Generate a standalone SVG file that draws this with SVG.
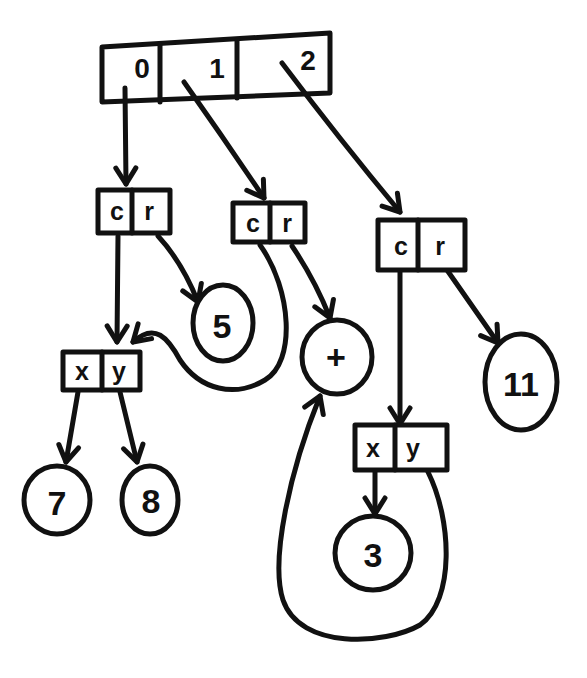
<svg xmlns="http://www.w3.org/2000/svg" width="587" height="678" viewBox="0 0 587 678">
<style>
.ln{fill:none;stroke:#111;stroke-width:5;stroke-linecap:round;stroke-linejoin:round}
.cell{fill:#fff;stroke:#111;stroke-width:5;stroke-linejoin:round}
.nd{fill:#fff;stroke:#111;stroke-width:5}
.t{font-family:"Liberation Sans",Arial,sans-serif;fill:#111;text-anchor:middle;dominant-baseline:central}
.s{font-size:25px;font-weight:bold}
.a{font-size:28px;font-weight:bold}
.b{font-size:34px;font-weight:bold}
</style>
<defs>
<marker id="ah" viewBox="-20 -13 24 26" markerWidth="24" markerHeight="26" refX="0" refY="0" orient="auto" markerUnits="userSpaceOnUse" overflow="visible">
<path d="M-16,-10 L0,0 L-16,10" fill="none" stroke="#111" stroke-width="5" stroke-linecap="round" stroke-linejoin="round"/>
</marker>
</defs>
<rect width="587" height="678" fill="#fff"/>
<g id="connectors">
<path class="ln" d="M125,88 L126,184" marker-end="url(#ah)"/>
<path class="ln" d="M184,82 Q225,140 264,198" marker-end="url(#ah)"/>
<path class="ln" d="M282,63 Q340,140 400,212" marker-end="url(#ah)"/>
<path class="ln" d="M158,236 Q182,262 198,302" marker-end="url(#ah)"/>
<path class="ln" d="M118,236 L117,342" marker-end="url(#ah)"/>
<path class="ln" d="M260,245 C292,290 296,362 265,380 C235,398 200,390 180,360 C168,338 155,322 133,342" marker-end="url(#ah)"/>
<path class="ln" d="M292,246 Q315,280 330,318" marker-end="url(#ah)"/>
<path class="ln" d="M400,272 L400,424" marker-end="url(#ah)"/>
<path class="ln" d="M447,270 Q475,310 498,343" marker-end="url(#ah)"/>
<path class="ln" d="M78,392 L66,462" marker-end="url(#ah)"/>
<path class="ln" d="M120,392 L137,462" marker-end="url(#ah)"/>
<path class="ln" d="M375,472 L375,514" marker-end="url(#ah)"/>
<path class="ln" d="M428,472 C452,520 455,600 420,625 C385,645 300,650 283,600 C270,560 290,470 320,396" marker-end="url(#ah)"/>
</g>
<g id="array">
<polygon class="cell" style="fill:none" points="102,47 330,33 330,93 102,102"/>
<line class="ln" x1="160" y1="45" x2="160" y2="102"/>
<line class="ln" x1="237" y1="40" x2="237" y2="98"/>
<text class="t a" x="142" y="68">0</text>
<text class="t a" x="217" y="68">1</text>
<text class="t a" x="308" y="60">2</text>
</g>
<g id="cons1">
<rect class="cell" x="98" y="190" width="72" height="43"/>
<line class="ln" x1="132" y1="190" x2="132" y2="233"/>
<text class="t s" x="117" y="211">c</text>
<text class="t s" x="149" y="211">r</text>
</g>
<g id="cons2">
<rect class="cell" x="233" y="203" width="72" height="39"/>
<line class="ln" x1="270" y1="203" x2="270" y2="242"/>
<text class="t s" x="253" y="223">c</text>
<text class="t s" x="287" y="223">r</text>
</g>
<g id="cons3">
<rect class="cell" x="378" y="220" width="87" height="50"/>
<line class="ln" x1="418" y1="220" x2="418" y2="270"/>
<text class="t s" x="401" y="246">c</text>
<text class="t s" x="440" y="246">r</text>
</g>
<g id="xy1">
<rect class="cell" x="63" y="352" width="77" height="38"/>
<line class="ln" x1="102" y1="352" x2="102" y2="390"/>
<text class="t s" x="82" y="371">x</text>
<text class="t s" x="119" y="371">y</text>
</g>
<g id="xy2">
<rect class="cell" x="355" y="425" width="92" height="45"/>
<line class="ln" x1="395" y1="425" x2="395" y2="470"/>
<text class="t s" x="373" y="448">x</text>
<text class="t s" x="413" y="448">y</text>
</g>
<g id="n5">
<ellipse class="nd" cx="223" cy="323" rx="30" ry="38"/>
<text class="t b" x="222" y="326">5</text>
</g>
<g id="nplus">
<ellipse class="nd" cx="337" cy="357" rx="35" ry="37"/>
<text class="t b" x="336" y="357">+</text>
</g>
<g id="n11">
<ellipse class="nd" cx="521" cy="382" rx="36" ry="48"/>
<text class="t b" x="521" y="384">11</text>
</g>
<g id="n7">
<ellipse class="nd" cx="57" cy="500" rx="33" ry="34"/>
<text class="t b" x="57" y="503">7</text>
</g>
<g id="n8">
<ellipse class="nd" cx="150" cy="500" rx="28" ry="34"/>
<text class="t b" x="151" y="501">8</text>
</g>
<g id="n3">
<ellipse class="nd" cx="373" cy="553" rx="38" ry="37"/>
<text class="t b" x="373" y="555">3</text>
</g>
</svg>
